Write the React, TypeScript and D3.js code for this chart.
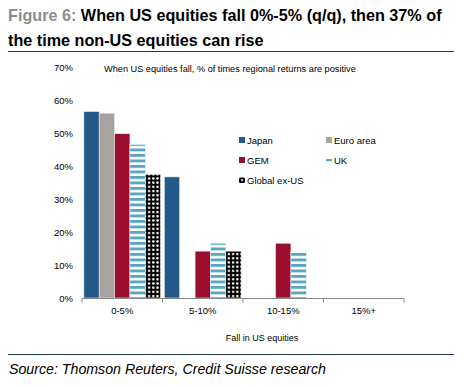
import React, { useRef, useEffect } from 'react';
import * as d3 from 'd3';

const categories = ['0-5%', '5-10%', '10-15%', '15%+'];
const seriesNames = ['Japan', 'Euro area', 'GEM', 'UK', 'Global ex-US'];
const japan = [56.5, 36.7, 0, 0];
const euroArea = [56, 0, 0, 0];
const gem = [49.8, 14.2, 16.6, 0];
const uk = [46.5, 16.6, 14.2, 0];
const globalExUs = [37.5, 14.2, 0, 0];
const yTicks = [0, 10, 20, 30, 40, 50, 60, 70];

const fills = ['#245a89', '#aaa29d', '#9a0f2f', 'url(#ukStripes)', 'url(#globalDots)'];

function App() {
  const ref = useRef<SVGSVGElement>(null);

  useEffect(() => {
    const svg = d3.select(ref.current);
    svg.selectAll('*').remove();
    const font = 'Liberation Sans, Arial, sans-serif';

    const defs = svg.append('defs');
    const stripes = defs.append('pattern').attr('id', 'ukStripes')
      .attr('patternUnits', 'userSpaceOnUse').attr('width', 4).attr('height', 5.5);
    stripes.append('rect').attr('width', 4).attr('height', 5.5).attr('fill', '#fff');
    stripes.append('rect').attr('width', 4).attr('height', 2.9).attr('fill', '#5aa6bf');
    const dots = defs.append('pattern').attr('id', 'globalDots')
      .attr('patternUnits', 'userSpaceOnUse').attr('width', 4.2).attr('height', 4.2);
    dots.append('rect').attr('width', 4.2).attr('height', 4.2).attr('fill', '#000');
    dots.append('circle').attr('cx', 2.1).attr('cy', 2.1).attr('r', 1.25).attr('fill', '#fff');

    const values = [japan, euroArea, gem, uk, globalExUs];

    // title
    const title = svg.append('text').attr('x', 8).attr('y', 21)
      .style('font-family', font).style('font-size', '16.2px').style('font-weight', 'bold');
    title.append('tspan').attr('fill', '#8c8c8c').text('Figure 6: ');
    title.append('tspan').attr('fill', '#000').text('When US equities fall 0%-5% (q/q), then 37% of');
    svg.append('text').attr('x', 8).attr('y', 46)
      .style('font-family', font).style('font-size', '16.2px').style('font-weight', 'bold')
      .text('the time non-US equities can rise');
    svg.append('line').attr('x1', 8).attr('x2', 454).attr('y1', 51.5).attr('y2', 51.5)
      .attr('stroke', '#1f3a5f').attr('stroke-width', 1.2);

    const x = d3.scaleBand().domain(categories).range([82, 404]);
    const y = d3.scaleLinear().domain([0, 70]).range([298, 67]);
    const inner = d3.scaleBand().domain(seriesNames)
      .range([0, x.bandwidth()]).paddingInner(0).paddingOuter(0.12);

    // y tick labels
    svg.append('g').selectAll('text').data(yTicks).enter().append('text')
      .attr('x', 73).attr('y', d => y(d) + 3.5).attr('text-anchor', 'end')
      .style('font-family', font).style('font-size', '9.5px').attr('fill', '#000')
      .text(d => `${d}%`);

    svg.append('text').attr('x', 104).attr('y', 72)
      .style('font-family', font).style('font-size', '9.2px')
      .text('When US equities fall, % of times regional returns are positive');

    // bars
    seriesNames.forEach((name, si) => {
      const rows = categories.map((c, i) => ({ cat: c, v: values[si][i] })).filter(d => d.v > 0);
      svg.append('g').selectAll('rect').data(rows).enter().append('rect')
        .attr('x', d => (x(d.cat) ?? 0) + (inner(name) ?? 0))
        .attr('y', d => y(d.v))
        .attr('width', inner.bandwidth())
        .attr('height', d => y(0) - y(d.v))
        .attr('fill', fills[si])
        .attr('stroke', '#e8ecf2').attr('stroke-width', 0.6);
    });

    // x axis
    const axis = svg.append('g').attr('transform', 'translate(0,298.5)');
    axis.append('line').attr('x1', 82).attr('x2', 404).attr('stroke', '#888');
    const tickXs = categories.map(c => x(c) ?? 0).concat([404]);
    axis.selectAll('line.t').data(tickXs).enter().append('line').attr('class', 't')
      .attr('x1', d => d).attr('x2', d => d).attr('y1', 0).attr('y2', 4).attr('stroke', '#888');
    axis.selectAll('text').data(categories).enter().append('text')
      .attr('x', d => (x(d) ?? 0) + x.bandwidth() / 2).attr('y', 15)
      .attr('text-anchor', 'middle')
      .style('font-family', font).style('font-size', '9.5px').text(d => d);
    svg.append('text').attr('x', 262).attr('y', 341).attr('text-anchor', 'middle')
      .style('font-family', font).style('font-size', '9px').text('Fall in US equities');

    // legend
    const legendPos = [[239, 140], [326, 140], [239, 160], [326, 160], [239, 180]];
    seriesNames.forEach((name, i) => {
      const [lx, ly] = legendPos[i];
      const g = svg.append('g');
      if (i === 3) {
        g.append('rect').attr('x', lx).attr('y', ly - 1).attr('width', 6).attr('height', 2.2).attr('fill', '#5aa6bf');
      } else if (i === 4) {
        g.append('rect').attr('x', lx).attr('y', ly - 2.5).attr('width', 6).attr('height', 5.5).attr('rx', 1.5).attr('fill', '#000');
        g.append('circle').attr('cx', lx + 3).attr('cy', ly).attr('r', 1).attr('fill', '#fff');
      } else {
        g.append('rect').attr('x', lx).attr('y', ly - 3).attr('width', 6).attr('height', 6).attr('fill', fills[i]);
      }
      g.append('text').attr('x', lx + 8).attr('y', ly + 3.5)
        .style('font-family', font).style('font-size', '9.5px').text(name);
    });

    // footer
    svg.append('line').attr('x1', 8).attr('x2', 454).attr('y1', 354.5).attr('y2', 354.5)
      .attr('stroke', '#1f3a5f').attr('stroke-width', 1.2);
    svg.append('text').attr('x', 9).attr('y', 374)
      .style('font-family', font).style('font-size', '14.2px').style('font-style', 'italic')
      .text('Source: Thomson Reuters, Credit Suisse research');
  }, []);

  return <svg ref={ref} width={465} height={387} style={{ display: 'block', position: 'absolute', left: 0, top: 0 }} />;
}

export default App;
